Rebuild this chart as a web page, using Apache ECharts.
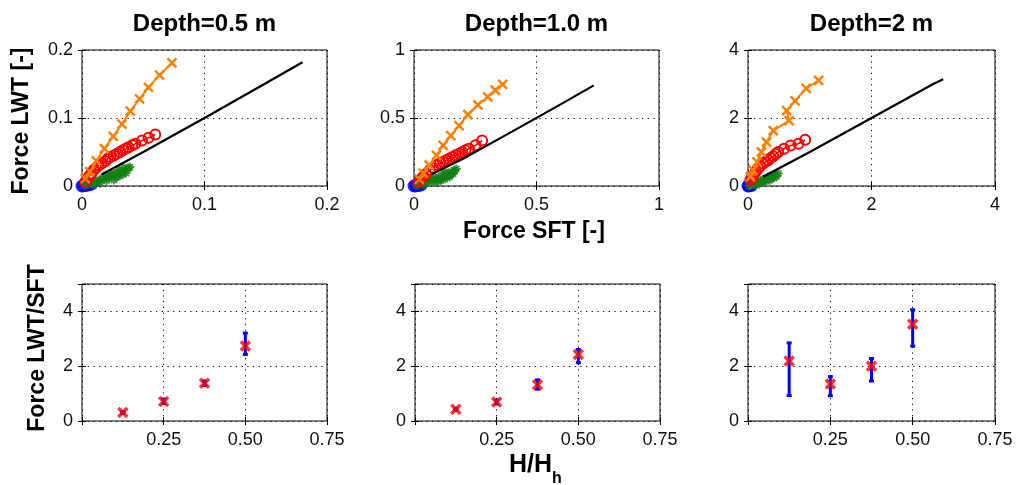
<!DOCTYPE html>
<html><head><meta charset="utf-8">
<script src="https://cdn.jsdelivr.net/npm/echarts@6/dist/echarts.min.js"></script>
<style>html,body{margin:0;padding:0;background:#fff}#c{width:1016px;height:485px}</style>
</head><body><div id="c"></div>
<script>
// ---------- data ----------
const titles = ['Depth=0.5 m', 'Depth=1.0 m', 'Depth=2 m'];
const forceMax = [0.2, 1, 4];
const forceStep = [0.1, 0.5, 2];

const orange05 = [[0.0027,0.011],[0.0063,0.021],[0.0117,0.037],[0.0182,0.055],[0.0255,0.073],[0.0326,0.091],[0.0394,0.110],[0.047,0.128],[0.0543,0.145],[0.0633,0.163],[0.0734,0.181]];
const red05 = [[0.0027,0.0063],[0.0054,0.0136],[0.0075,0.018],[0.0095,0.0233],[0.0115,0.027],[0.0136,0.0306],[0.016,0.033],[0.019,0.0364],[0.021,0.040],[0.0231,0.0427],[0.026,0.045],[0.0285,0.0476],[0.031,0.050],[0.0334,0.0524],[0.036,0.055],[0.038,0.057],[0.041,0.060],[0.0435,0.062],[0.049,0.067],[0.0543,0.0709],[0.0598,0.0757]];
const green05 = [[0.002,0.001],[0.005,0.003],[0.008,0.005],[0.011,0.007],[0.014,0.009],[0.017,0.011],[0.02,0.013],[0.023,0.015],[0.026,0.017],[0.029,0.019],[0.032,0.021],[0.035,0.023],[0.038,0.026],[0.039,0.028],[0.03,0.024],[0.024,0.019],[0.018,0.014],[0.034,0.027],[0.013,0.006],[0.022,0.012],[0.026,0.009],[0.031,0.015],[0.036,0.019],[0.028,0.013],[0.02,0.008],[0.015,0.004],[0.009,0.002],[0.033,0.017]];
const blue05 = [[0,0],[0.001,0.0005],[0.002,0.001],[0.003,0.001],[0.004,0.0015],[0.005,0.002],[0.006,0.002],[0.008,0.003]];
const black05 = [[0.016,0.017],[0.05,0.05],[0.1,0.1],[0.15,0.151],[0.18,0.182]];

const orange10 = [[0.022,0.049],[0.038,0.092],[0.062,0.153],[0.092,0.226],[0.119,0.299],[0.15,0.371],[0.184,0.444],[0.22,0.524],[0.261,0.597],[0.301,0.655],[0.332,0.704],[0.362,0.748]];
const red10 = [[0.018,0.032],[0.028,0.05],[0.038,0.068],[0.05,0.09],[0.065,0.117],[0.078,0.135],[0.092,0.153],[0.105,0.165],[0.119,0.177],[0.131,0.189],[0.143,0.201],[0.157,0.213],[0.17,0.226],[0.184,0.238],[0.197,0.25],[0.21,0.262],[0.224,0.274],[0.251,0.299],[0.278,0.335]];
const green10 = [[0.01,0.005],[0.02,0.012],[0.035,0.02],[0.05,0.03],[0.06,0.04],[0.075,0.045],[0.09,0.055],[0.1,0.065],[0.115,0.075],[0.13,0.085],[0.14,0.095],[0.155,0.105],[0.165,0.115],[0.173,0.125],[0.12,0.05],[0.1,0.035],[0.145,0.07],[0.08,0.06],[0.06,0.025],[0.16,0.09],[0.135,0.06],[0.11,0.045],[0.085,0.028],[0.15,0.085],[0.04,0.01],[0.125,0.1]];
const blue10 = [[0,0],[0.005,0.002],[0.01,0.004],[0.015,0.005],[0.02,0.007],[0.025,0.008],[0.03,0.01],[0.01,0.001]];
const black10 = [[0.072,0.087],[0.2,0.2],[0.4,0.4],[0.6,0.602],[0.734,0.74]];

const orange20 = [[0.038,0.272],[0.082,0.466],[0.147,0.709],[0.218,1.0],[0.3,1.291],[0.409,1.631],[0.665,1.922],[0.627,2.214],[0.763,2.505],[0.943,2.874],[1.144,3.107]];
const red20 = [[0.038,0.175],[0.065,0.25],[0.093,0.32],[0.125,0.42],[0.163,0.515],[0.2,0.59],[0.245,0.66],[0.285,0.71],[0.327,0.757],[0.365,0.82],[0.409,0.874],[0.45,0.94],[0.49,1.0],[0.583,1.097],[0.692,1.194],[0.817,1.243],[0.926,1.359]];
const green20 = [[0.02,0.01],[0.05,0.04],[0.08,0.07],[0.12,0.1],[0.15,0.13],[0.2,0.15],[0.25,0.19],[0.3,0.23],[0.35,0.27],[0.4,0.3],[0.45,0.33],[0.49,0.37],[0.35,0.17],[0.25,0.12],[0.42,0.24],[0.18,0.06],[0.3,0.16],[0.38,0.22],[0.1,0.03],[0.22,0.1],[0.46,0.28],[0.28,0.2]];
const blue20 = [[0,0],[0.01,0.005],[0.02,0.01],[0.04,0.02],[0.06,0.02],[0.03,0.04]];
const black20 = [[0.245,0.27],[1,1],[2,2],[3,3.0],[3.16,3.14]];

const hh = [0.125, 0.25, 0.375, 0.5];
const ratio05 = [0.31, 0.71, 1.38, 2.74];
const errLo05 = [0.28, 0.64, 1.30, 2.43];
const errHi05 = [0.34, 0.80, 1.46, 3.21];
const ratio10 = [0.43, 0.69, 1.32, 2.43];
const errLo10 = [0.40, 0.62, 1.16, 2.13];
const errHi10 = [0.46, 0.76, 1.50, 2.61];
const ratio20 = [2.19, 1.35, 2.0, 3.53];
const errLo20 = [0.93, 0.92, 1.46, 2.73];
const errHi20 = [2.85, 1.62, 2.28, 4.06];
const hhTicks = [0, 0.25, 0.5, 0.75];

// ---------- build ----------
const topSets = [
  {o: orange05, r: red05, g: green05, b: blue05, k: black05},
  {o: orange10, r: red10, g: green10, b: blue10, k: black10},
  {o: orange20, r: red20, g: green20, b: blue20, k: black20}
];
const botSets = [
  {v: ratio05, lo: errLo05, hi: errHi05},
  {v: ratio10, lo: errLo10, hi: errHi10},
  {v: ratio20, lo: errLo20, hi: errHi20}
];

const FONT = '"Liberation Sans", Arial, Helvetica, sans-serif';
const ORANGE = '#ff8000', RED = '#ff0000', GREEN = '#138013', BLUE = '#0000ff';
const X_PATH = 'path://M0,0L10,10M10,0L0,10';
const STAR_PATH = 'path://M5,0L5,10M0,5L10,5M1.6,1.6L8.4,8.4M8.4,1.6L1.6,8.4';
const CIRC_PATH = 'path://M10,5A5,5,0,1,1,0,5A5,5,0,1,1,10,5Z';

const grids = [
  {left: 82, top: 50, width: 245, height: 136},
  {left: 414, top: 50, width: 245, height: 136},
  {left: 748, top: 50, width: 247, height: 136},
  {left: 82, top: 284, width: 245, height: 137},
  {left: 415, top: 284, width: 245, height: 137},
  {left: 748, top: 284, width: 247, height: 137}
].map(g => Object.assign(g, {show: true, borderColor: '#000', borderWidth: 1, backgroundColor: '#fff'}));

const fmtNum = v => String(+v.toFixed(3));
const dotted = {show: true, lineStyle: {color: '#000', type: [1.2, 4.5], width: 1}};
const tick = {show: true, inside: true, length: 4, lineStyle: {color: '#000', width: 1}};
const label = (extra) => Object.assign({color: '#111', fontSize: 18, fontFamily: FONT}, extra);

const xAxes = [], yAxes = [];
for (let i = 0; i < 6; i++) {
  const top = i < 3;
  const j = i % 3;
  const xr = top ? {min: 0, max: forceMax[j], interval: forceStep[j]} : {min: hhTicks[0], max: hhTicks[3], interval: hhTicks[1]};
  const yr = top ? {min: 0, max: forceMax[j], interval: forceStep[j]} : {min: 0, max: 5, interval: 2};
  xAxes.push(Object.assign({type: 'value', gridIndex: i, position: 'bottom',
    axisLine: {show: false}, axisTick: tick, splitLine: dotted,
    axisLabel: label({margin: 10, showMaxLabel: true,
      formatter: top ? fmtNum : (v => v === 0 ? '' : v.toFixed(2))})}, xr));
  yAxes.push(Object.assign({type: 'value', gridIndex: i, position: 'left',
    axisLine: {show: false}, axisTick: tick, splitLine: dotted,
    axisLabel: label({margin: 9, formatter: top ? fmtNum : (v => v > 4 ? '' : String(v))})}, yr));
}
for (let i = 0; i < 6; i++) {
  xAxes.push(Object.assign({}, xAxes[i], {position: 'top', axisLabel: {show: false}, splitLine: {show: false}}));
  yAxes.push(Object.assign({}, yAxes[i], {position: 'right', axisLabel: {show: false}, splitLine: {show: false}}));
}

const series = [];
topSets.forEach((s, i) => {
  const ax = {xAxisIndex: i, yAxisIndex: i, clip: false, animation: false};
  series.push(Object.assign({type: 'scatter', data: s.b, symbol: CIRC_PATH, symbolSize: 11,
    itemStyle: {color: 'rgba(0,0,0,0)', borderColor: BLUE, borderWidth: 2}, z: 2}, ax));
  series.push(Object.assign({type: 'scatter', data: s.g, symbol: STAR_PATH, symbolSize: 9,
    itemStyle: {color: 'rgba(0,0,0,0)', borderColor: GREEN, borderWidth: 2}, z: 3}, ax));
  series.push(Object.assign({type: 'line', data: s.r, symbol: CIRC_PATH, symbolSize: 10, showSymbol: true,
    lineStyle: {color: RED, width: 1.5},
    itemStyle: {color: 'rgba(0,0,0,0)', borderColor: RED, borderWidth: 2}, z: 4}, ax));
  series.push(Object.assign({type: 'line', data: s.o, symbol: X_PATH, symbolSize: 9, showSymbol: true,
    lineStyle: {color: ORANGE, width: 2},
    itemStyle: {color: 'rgba(0,0,0,0)', borderColor: ORANGE, borderWidth: 2.5}, z: 5}, ax));
  series.push(Object.assign({type: 'line', data: s.k, symbol: 'none',
    lineStyle: {color: '#000', width: 2.2}, z: 6}, ax));
});

botSets.forEach((s, j) => {
  const i = j + 3;
  const ax = {xAxisIndex: i, yAxisIndex: i, clip: false, animation: false};
  series.push(Object.assign({type: 'custom', z: 3,
    data: hh.map((x, k) => [x, s.lo[k], s.hi[k]]),
    renderItem: (params, api) => {
      const x = api.value(0);
      const p1 = api.coord([x, api.value(1)]);
      const p2 = api.coord([x, api.value(2)]);
      const st = {stroke: BLUE, lineWidth: 3};
      const cw = 2.5;
      return {type: 'group', children: [
        {type: 'line', shape: {x1: p1[0], y1: p1[1], x2: p2[0], y2: p2[1]}, style: st},
        {type: 'line', shape: {x1: p1[0] - cw, y1: p1[1], x2: p1[0] + cw, y2: p1[1]}, style: st},
        {type: 'line', shape: {x1: p2[0] - cw, y1: p2[1], x2: p2[0] + cw, y2: p2[1]}, style: st}
      ]};
    }}, ax));
  series.push(Object.assign({type: 'scatter', z: 4, data: hh.map((x, k) => [x, s.v[k]]),
    symbol: X_PATH, symbolSize: 9,
    itemStyle: {color: 'rgba(0,0,0,0)', borderColor: RED, borderWidth: 3.5}}, ax));
});

const bold = (extra) => Object.assign({fill: '#000', fontFamily: FONT, fontWeight: 'bold', fontSize: 23,
  textAlign: 'center', textVerticalAlign: 'middle'}, extra);
const centers = [204.5, 536.5, 871.5];
const graphic = [];
titles.forEach((t, k) => graphic.push({type: 'text', x: centers[k], y: 24, style: bold({text: t, fontSize: 24})}));
graphic.push({type: 'text', x: 22, y: 121, rotation: Math.PI / 2, style: bold({text: 'Force LWT [-]'})});
graphic.push({type: 'text', x: 534, y: 232, style: bold({text: 'Force SFT [-]'})});
graphic.push({type: 'text', x: 38, y: 348, rotation: Math.PI / 2, style: bold({text: 'Force LWT/SFT'})});
graphic.push({type: 'text', x: 552, y: 465, style: bold({text: 'H/H', textAlign: 'right', fontSize: 25})});
graphic.push({type: 'text', x: 552, y: 479, style: bold({text: 'h', textAlign: 'left', fontSize: 16})});

const chart = echarts.init(document.getElementById('c'), null, {renderer: 'canvas'});
chart.setOption({
  animation: false,
  backgroundColor: '#fff',
  grid: grids,
  xAxis: xAxes,
  yAxis: yAxes,
  series: series,
  graphic: graphic
});
</script>
</body></html>
